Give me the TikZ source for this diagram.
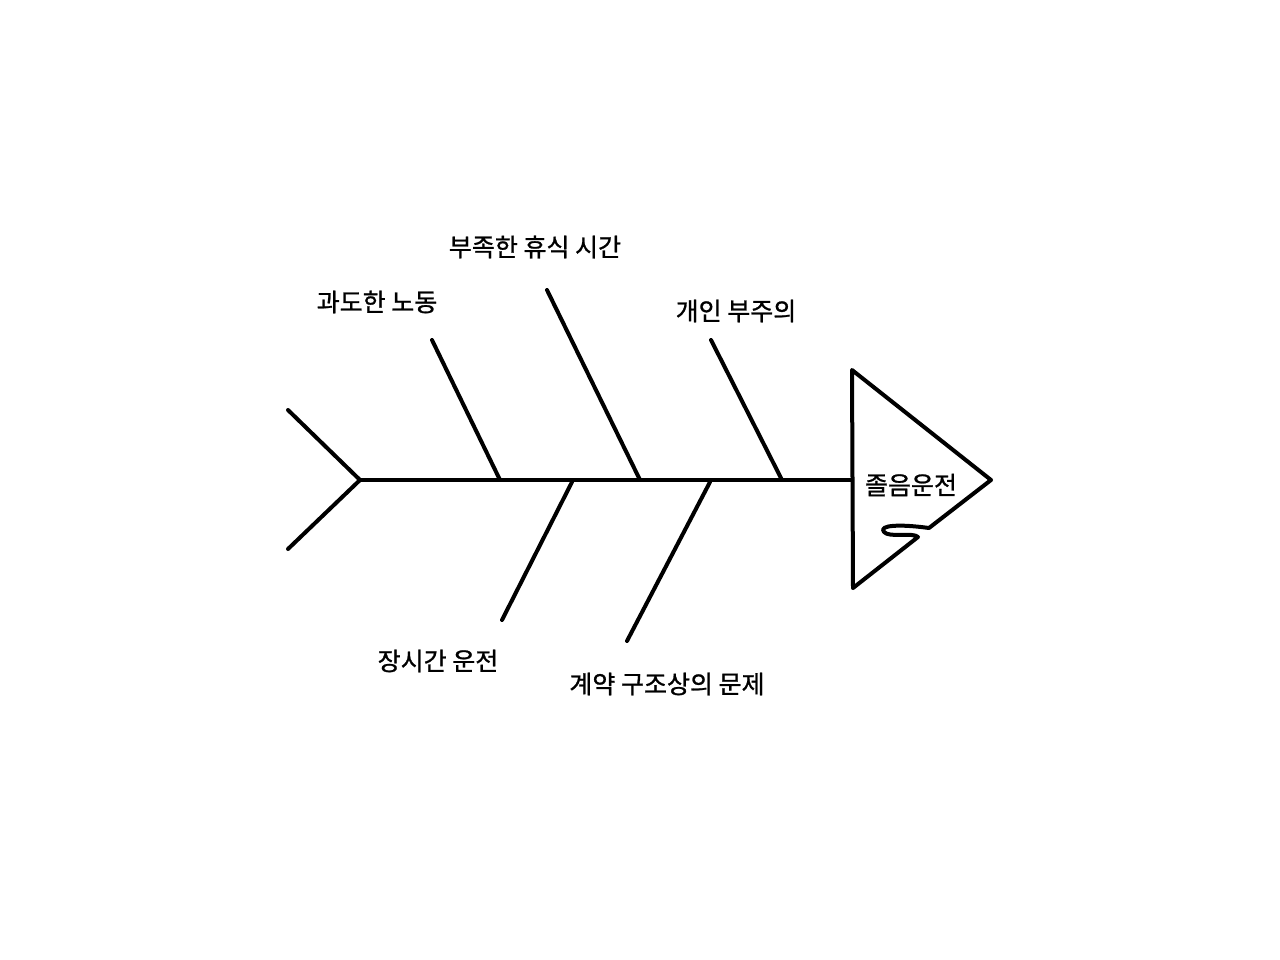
\documentclass[tikz,border=0pt]{standalone}
\usepackage{fontspec}
\newfontfamily\kr[FakeBold=1]{Noto Sans CJK KR}
\begin{document}
\begin{tikzpicture}[x=1pt,y=-1pt,
  bone/.style={line width=4pt,line cap=round,line join=round},
  lbl/.style={font=\kr\fontsize{25}{28}\selectfont,inner sep=0pt}]
\useasboundingbox[fill=white] (0,0) rectangle (1280,960);
% spine and tail
\coordinate (tailtop) at (288,410);
\coordinate (tailbot) at (288,549);
\coordinate (s0) at (360,480);
\coordinate (s1) at (852,480);
\draw[bone] (tailtop) -- (s0) -- (tailbot);
\draw[bone] (s0) -- (s1);
% upper bones
\coordinate (u1a) at (432,340); \coordinate (u1b) at (500,480);
\coordinate (u2a) at (547,290); \coordinate (u2b) at (640,480);
\coordinate (u3a) at (711,340); \coordinate (u3b) at (782,480);
\draw[bone] (u1a) -- (u1b);
\draw[bone] (u2a) -- (u2b);
\draw[bone] (u3a) -- (u3b);
% lower bones
\coordinate (l1a) at (572,482); \coordinate (l1b) at (502,620);
\coordinate (l2a) at (710,482); \coordinate (l2b) at (627,641);
\draw[bone] (l1a) -- (l1b);
\draw[bone] (l2a) -- (l2b);
% head
\coordinate (h1) at (852,370);
\coordinate (h2) at (991,480);
\coordinate (h3) at (929,528);
\coordinate (h4) at (918,537);
\coordinate (h5) at (853,588);
\draw[bone] (h5) -- (h1) -- (h2) -- (h3)
  .. controls (900,524) and (878,525) .. (884,532)
  .. controls (889,538) and (913,532) .. (h4) -- (h5);
% labels
\node[lbl] (t1) at (377,302) {과도한 노동};
\node[lbl] (t2) at (535,247) {부족한 휴식 시간};
\node[lbl] (t3) at (736,311) {개인 부주의};
\node[lbl] (t4) at (438,661) {장시간 운전};
\node[lbl] (t5) at (667,684) {계약 구조상의 문제};
\node[lbl] (t6) at (911,485) {졸음운전};
\end{tikzpicture}
\end{document}
